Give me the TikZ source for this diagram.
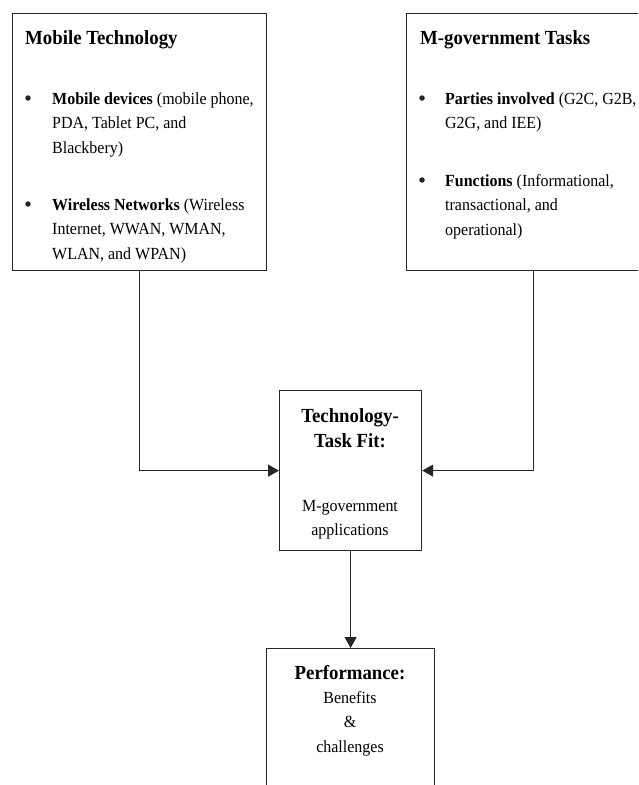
\documentclass[tikz,border=0pt]{standalone}
\usepackage{fontspec}
\setmainfont[FakeStretch=0.94]{Liberation Serif}
\usetikzlibrary{positioning,arrows.meta}

\tikzset{
	box/.style={draw=black!85, line width=1.2pt, inner sep=0pt, anchor=north west},
	head/.style={font=\fontsize{20}{26}\selectfont\bfseries, inner sep=0pt, anchor=base west},
	body/.style={font=\fontsize{17}{24.7}\selectfont, inner sep=0pt, anchor=base west, text width=215pt, align=flush left},
	headc/.style={font=\fontsize{20}{25.5}\selectfont\bfseries, inner sep=0pt, anchor=base, text width=160pt, align=flush center},
	bodyc/.style={font=\fontsize{17}{24.5}\selectfont, inner sep=0pt, anchor=base, text width=160pt, align=flush center},
	dot/.style={circle, fill=black!85, inner sep=0pt, minimum size=5.5pt},
	link/.style={draw=black!85, line width=1.2pt, -{Triangle[length=11pt,width=12pt]}}
}

\begin{document}
\begin{tikzpicture}[x=1pt, y=-1pt]
	\useasboundingbox (0,0) rectangle (638,785);
	\clip (0,0) rectangle (638,785);

	% boxes
	\node[box, minimum width=254pt, minimum height=257pt] (mobile) at (12,13) {};
	\node[box, minimum width=254pt, minimum height=257pt] (tasks) at (406,13) {};
	\node[box, minimum width=142pt, minimum height=160pt] (fit) at (279,390) {};
	\node[box, minimum width=168pt, minimum height=200pt] (perf) at (266,648) {};

	% left box
	\node[head] (mobilehead) at (25,44) {Mobile Technology};
	\node[dot] (mobiledot1) at (28,98) {};
	\node[body] (devices) at (52,104) {\textbf{Mobile devices} (mobile phone,\\PDA, Tablet PC, and\\Blackbery)};
	\node[dot] (mobiledot2) at (28,204) {};
	\node[body] (networks) at (52,210) {\textbf{Wireless Networks} (Wireless\\Internet, WWAN, WMAN,\\WLAN, and WPAN)};

	% right box
	\node[head] (taskshead) at (420,44) {M-government Tasks};
	\node[dot] (tasksdot1) at (422,98) {};
	\node[body] (parties) at (445,104) {\textbf{Parties involved} (G2C, G2B,\\G2G, and IEE)};
	\node[dot] (tasksdot2) at (422,180) {};
	\node[body] (functions) at (445,186) {\textbf{Functions} (Informational,\\transactional, and\\operational)};

	% fit box
	\node[headc] (fithead) at (350,422) {Technology-\\Task Fit:};
	\node[bodyc] (fitapps) at (350,511) {M-government\\applications};

	% performance box
	\node[headc] (perfhead) at (350,679) {Performance:};
	\node[bodyc] (perfitems) at (350,703) {Benefits\\\&\\challenges};

	% connectors
	\draw[link] (mobile.south) |- (fit.west);
	\draw[link] (tasks.south) |- (fit.east);
	\draw[link] (fit.south) -- (perf.north);
\end{tikzpicture}
\end{document}
